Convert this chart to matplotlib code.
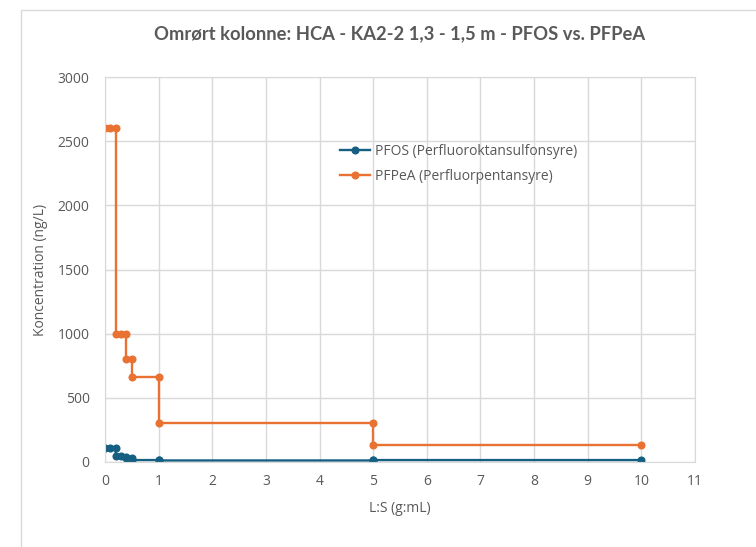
import matplotlib.pyplot as plt
from matplotlib.patches import Rectangle

plt.rcParams['font.family'] = ['Open Sans', 'DejaVu Sans']

# L:S (g:mL) og koncentrationer (ng/L), trappeform
ls_values = [0, 0.1, 0.2, 0.2, 0.3, 0.4, 0.4, 0.5, 0.5, 1, 1, 5, 5, 10]
pfos = [110, 110, 110, 45, 45, 40, 35, 30, 15, 15, 12, 12, 15, 15]
pfpea = [2600, 2600, 2600, 1000, 1000, 1000, 800, 800, 660, 660, 300, 300, 130, 130]

labels = ['PFOS (Perfluoroktansulfonsyre)', 'PFPeA (Perfluorpentansyre)']
colors = ['#156082', '#E97132']
grid_c = '#d9d9d9'
text_c = '#595959'

fig = plt.figure(figsize=(7.56, 5.47), dpi=100)
ax = fig.add_axes([0.1389, 0.1554, 0.7804, 0.7038])

for y, lab, c in zip([pfos, pfpea], labels, colors):
    ax.plot(ls_values, y, '-o', color=c, lw=1.7, markersize=4.8, label=lab)

ax.set_xlim(0, 11)
ax.set_ylim(0, 3000)
ax.set_xticks(range(0, 12))
ax.set_yticks(range(0, 3001, 500))
ax.grid(True, color=grid_c, lw=1)
ax.set_axisbelow(True)
for s in ax.spines.values():
    s.set_color(grid_c)
ax.tick_params(length=0, labelsize=10, colors=text_c)
ax.tick_params(axis='y', pad=11)
ax.tick_params(axis='x', pad=9)

ax.set_xlabel('L:S (g:mL)', fontsize=10, color=text_c, labelpad=8)
ax.set_ylabel('Koncentration (ng/L)', fontsize=10, color=text_c, labelpad=7)
fig.text(0.528, 0.938, 'Omrørt kolonne: HCA - KA2-2 1,3 - 1,5 m - PFOS vs. PFPeA',
         ha='center', va='center', fontsize=13.2, fontweight='bold', color=text_c,
         family=['Lato', 'DejaVu Sans'])

ax.legend(loc='upper left', bbox_to_anchor=(0.433, 0.76), bbox_transform=fig.transFigure,
          frameon=False, fontsize=10, labelcolor=text_c, handlelength=2.2,
          handletextpad=0.3, labelspacing=0.7)

fig.patches.append(Rectangle((21 / 756, -0.1), 1.2, 1 - 10 / 547 + 0.1,
                             transform=fig.transFigure, fill=False,
                             edgecolor=grid_c, lw=1))

fig.savefig('out.png', dpi=100)
